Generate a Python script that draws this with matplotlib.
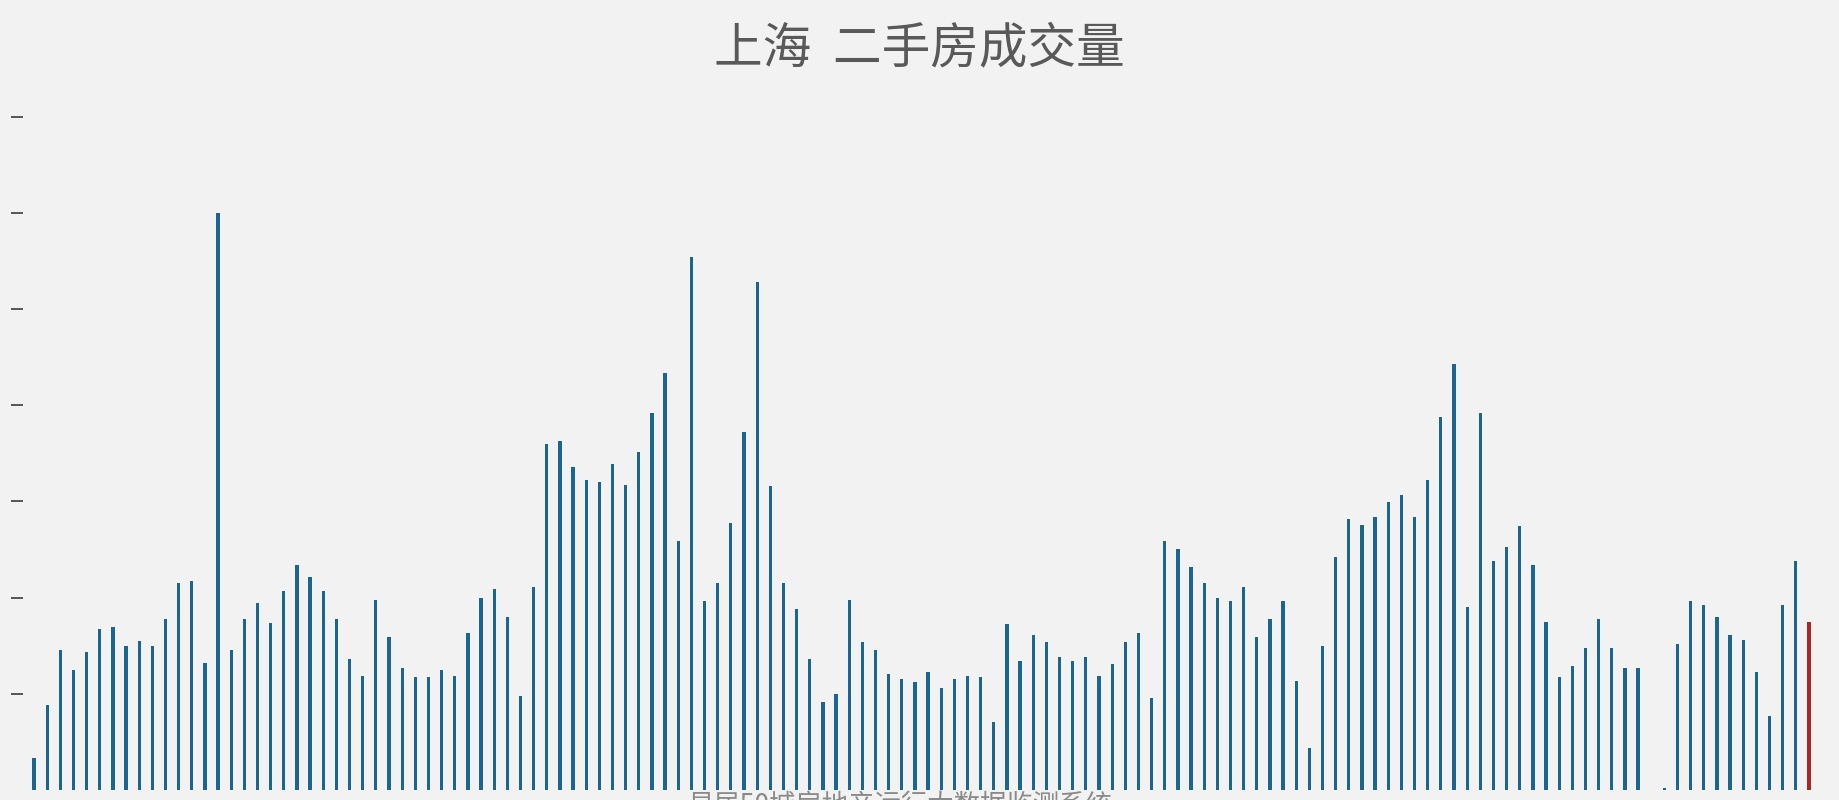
import numpy as np
import matplotlib
matplotlib.use("Agg")
import matplotlib.pyplot as plt

plt.rcParams['font.family'] = ['Noto Sans CJK SC', 'DejaVu Sans']

# ---- data (units = y tick steps) ----
TITLE = "上海  二手房成交量"
SOURCE = "易居50城房地产运行大数据监测系统"

volumes_a = [0.33, 0.88, 1.46, 1.25, 1.43, 1.67, 1.69, 1.50, 1.55, 1.50,
             1.78, 2.15, 2.17, 1.32, 6.00, 1.46, 1.78, 1.94, 1.74, 2.07,
             2.34, 2.21, 2.07, 1.78, 1.36, 1.19, 1.98, 1.59, 1.27, 1.17,
             1.17, 1.25, 1.19, 1.63, 2.00, 2.09, 1.80, 0.98, 2.11, 3.60,
             3.63, 3.36, 3.22, 3.20, 3.39]
volumes_b = [3.17, 3.51, 3.92, 4.34, 2.59, 5.54, 1.96, 2.15, 2.78, 3.72,
             5.28, 3.16, 2.15, 1.88, 1.36, 0.92, 1.00, 1.98, 1.54, 1.46,
             1.21, 1.15, 1.12, 1.23, 1.06, 1.15, 1.19, 1.17, 0.71, 1.73,
             1.34, 1.61, 1.54, 1.38, 1.34, 1.38, 1.19, 1.31, 1.54, 1.63,
             0.96, 2.59, 2.51, 2.32, 2.15, 2.00]
volumes_c = [1.96, 2.11, 1.59, 1.78, 1.96, 1.13, 0.44, 1.50, 2.42, 2.82,
             2.76, 2.84, 2.99, 3.07, 2.84, 3.22, 3.88, 4.43, 1.90, 3.92,
             2.38, 2.53, 2.74, 2.34, 1.75, 1.17, 1.29, 1.48, 1.78, 1.48,
             1.27, 1.27, 0.00, 0.02, 1.52, 1.96, 1.92, 1.80, 1.61, 1.56,
             1.23, 0.77, 1.92, 2.38, 1.75]
yticks = [1, 2, 3, 4, 5, 6, 7]

volumes = np.array(volumes_a + volumes_b + volumes_c)
x = np.arange(len(volumes))

BG = "#f2f2f2"
BLUE = "#1a6690"
RED = "#a8282a"
colors = [BLUE] * (len(volumes) - 1) + [RED]

# ---- plot ----
W, H = 1839, 800
fig = plt.figure(figsize=(W / 100, H / 100), dpi=100, facecolor=BG)
ax = fig.add_axes([23 / W, 10 / H, 1 - 23 / W, (790 - 97.4) / H])
ax.set_facecolor(BG)

ax.bar(x, volumes, width=0.25, color=colors, zorder=2)

step = 13.15  # px per bar
ax.set_xlim(-(34 - 23) / step, len(volumes) - 1 + (W - 1809) / step)
ax.set_ylim(0, 7.2)

for s in ax.spines.values():
    s.set_visible(False)
ax.set_xticks([])
ax.set_yticks(yticks)
ax.set_yticklabels([])
ax.tick_params(axis="y", direction="out", length=9, width=1.4, color="#555555")

# title, and the source line which sits half off the bottom edge
fig.text(0.5, 1 - 49 / H, TITLE, ha="center", va="center",
         fontsize=35, color="#595959")
fig.text(900 / W, 8 / H, SOURCE, ha="center", va="top",
         fontsize=19, color="#8a8a8a")

fig.savefig("out.png", dpi=100, facecolor=BG)
